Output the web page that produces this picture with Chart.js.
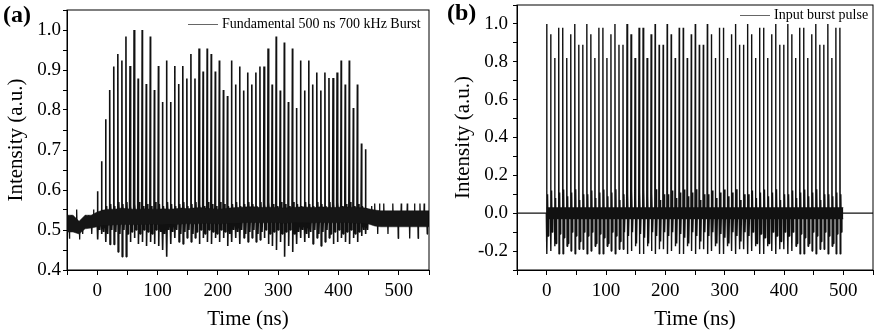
<!DOCTYPE html>
<html>
<head>
<meta charset="utf-8">
<script src="https://cdn.jsdelivr.net/npm/chart.js@4.4.0/dist/chart.umd.min.js"></script>
<style>
  body { margin: 0; background: #fff; }
  #wrap { position: relative; width: 875px; height: 335px; font-family: "Liberation Serif", serif; }
  canvas { position: absolute; top: 0; }
  .panel { position: absolute; font-weight: bold; font-size: 24px; line-height: 24px; }
  .legend { position: absolute; font-size: 14px; line-height: 16px; white-space: nowrap; }
  .legend span.line { display: inline-block; width: 30px; height: 0; border-top: 1.5px solid #666; vertical-align: middle; margin-right: 4px; }
</style>
</head>
<body>
<div id="wrap">
  <canvas id="chartA" width="440" height="335" style="left:0"></canvas>
  <canvas id="chartB" width="435" height="335" style="left:440px"></canvas>
  <div class="panel" style="left:3px;top:2px">(a)</div>
  <div class="panel" style="left:447px;top:0px">(b)</div>
  <div class="legend" style="left:188px;top:16px"><span class="line"></span>Fundamental 500 ns 700 kHz Burst</div>
  <div class="legend" style="left:740px;top:7px"><span class="line"></span>Input burst pulse</div>
</div>
<script>
// ---- panel (a): fundamental burst ----
const pulseStartA = 0.6;
const pulseStepA = 6.73;
const baseA = 0.53;
const basePreA = 0.515;

const peaksA = [0.597, 0.672, 0.777, 0.850, 0.909, 0.940, 0.924, 0.984, 0.910, 1.000,
  0.879, 1.000, 0.865, 0.984, 0.850, 0.910, 0.820, 0.924, 0.820, 0.910,
  0.865, 0.910, 0.879, 0.940, 0.879, 0.954, 0.896, 0.954, 0.940, 0.896,
  0.924, 0.850, 0.835, 0.924, 0.864, 0.909, 0.849, 0.894, 0.864, 0.894,
  0.909, 0.909, 0.954, 0.864, 0.984, 0.849, 0.969, 0.820, 0.954, 0.805,
  0.924, 0.849, 0.924, 0.864, 0.894, 0.849, 0.894, 0.880, 0.880, 0.894,
  0.924, 0.864, 0.924, 0.805, 0.864, 0.716, 0.702];

const dipsA = [0.476, 0.49, 0.47, 0.464, 0.464, 0.445, 0.433, 0.433, 0.47, 0.48,
  0.465, 0.47, 0.46, 0.47, 0.465, 0.46, 0.45, 0.433, 0.465, 0.48,
  0.47, 0.465, 0.48, 0.47, 0.48, 0.465, 0.48, 0.47, 0.465, 0.48,
  0.47, 0.48, 0.46, 0.47, 0.48, 0.465, 0.48, 0.47, 0.48, 0.47,
  0.475, 0.48, 0.465, 0.46, 0.45, 0.47, 0.433, 0.46, 0.445, 0.465,
  0.48, 0.47, 0.48, 0.465, 0.48, 0.46, 0.47, 0.48, 0.465, 0.47,
  0.48, 0.47, 0.465, 0.48, 0.47, 0.485, 0.49];

const ringA = [0.54, 0.55, 0.56, 0.565, 0.56, 0.57, 0.565, 0.57, 0.56, 0.565,
  0.57, 0.56, 0.565, 0.56, 0.57, 0.565, 0.56, 0.57, 0.565, 0.56,
  0.565, 0.57, 0.56, 0.565, 0.57, 0.565, 0.56, 0.57, 0.565, 0.56,
  0.57, 0.565, 0.56, 0.565, 0.57, 0.56, 0.565, 0.57, 0.565, 0.56,
  0.57, 0.565, 0.57, 0.565, 0.56, 0.57, 0.565, 0.56, 0.57, 0.565,
  0.56, 0.57, 0.565, 0.56, 0.57, 0.565, 0.56, 0.57, 0.565, 0.57,
  0.56, 0.565, 0.57, 0.56, 0.565, 0.56, 0.555];

// small downward spikes between pulses
const midDipA = [0.50, 0.495, 0.49, 0.50, 0.495, 0.49, 0.50, 0.49, 0.495, 0.50,
  0.49, 0.50, 0.495, 0.49, 0.50, 0.495, 0.49, 0.50, 0.495, 0.50,
  0.49, 0.495, 0.50, 0.49, 0.495, 0.50, 0.49, 0.50, 0.495, 0.49,
  0.50, 0.495, 0.49, 0.50, 0.495, 0.50, 0.49, 0.495, 0.50, 0.49,
  0.495, 0.50, 0.49, 0.495, 0.50, 0.49, 0.495, 0.50, 0.49, 0.495,
  0.50, 0.49, 0.495, 0.50, 0.49, 0.495, 0.50, 0.49, 0.495, 0.50,
  0.49, 0.495, 0.50, 0.49, 0.495, 0.50, 0.50];

// noise band envelope, every 10 ns
const bandTimesA = [-50, -40, -30, -20, -10, 0, 10, 20, 30, 40, 50, 60, 70, 80, 90, 100,
  110, 120, 130, 140, 150, 160, 170, 180, 190, 200, 210, 220, 230, 240, 250,
  260, 270, 280, 290, 300, 310, 320, 330, 340, 350, 360, 370, 380, 390, 400,
  410, 420, 430, 440, 450, 460, 470, 480, 490, 500, 510, 520, 530, 540, 550];
const bandHiA = [0.537, 0.537, 0.522, 0.537, 0.537, 0.545, 0.55, 0.552, 0.552, 0.555, 0.553, 0.552, 0.552, 0.553, 0.552, 0.552,
  0.553, 0.552, 0.553, 0.555, 0.553, 0.555, 0.556, 0.555, 0.553, 0.552, 0.553, 0.555, 0.556, 0.557, 0.558,
  0.558, 0.556, 0.557, 0.557, 0.556, 0.555, 0.556, 0.557, 0.558, 0.557, 0.556, 0.558, 0.557, 0.556, 0.557,
  0.558, 0.557, 0.556, 0.556, 0.553, 0.55, 0.548, 0.548, 0.548, 0.548, 0.548, 0.548, 0.548, 0.548, 0.548];
const bandLoA = [0.495, 0.495, 0.49, 0.503, 0.505, 0.508, 0.512, 0.512, 0.513, 0.514, 0.514, 0.513, 0.514, 0.514, 0.515, 0.514,
  0.514, 0.515, 0.514, 0.515, 0.516, 0.515, 0.516, 0.517, 0.516, 0.515, 0.516, 0.517, 0.517, 0.518, 0.519,
  0.519, 0.518, 0.518, 0.519, 0.518, 0.517, 0.518, 0.519, 0.519, 0.518, 0.518, 0.519, 0.518, 0.518, 0.518,
  0.519, 0.518, 0.517, 0.517, 0.515, 0.51, 0.508, 0.508, 0.508, 0.508, 0.508, 0.508, 0.508, 0.508, 0.508];

// spikes outside the burst
const noiseTimesA = [-49, -46, -43, -40, -34, -29, -24, -19, -14, -9, -6,
  455, 460, 465, 468, 475, 482, 490, 499, 504, 514, 518, 526, 532, 535, 542, 547];
const noiseValsA = [0.537, 0.478, 0.537, 0.497, 0.551, 0.476, 0.49, 0.537, 0.537, 0.49, 0.551,
  0.56, 0.566, 0.49, 0.566, 0.566, 0.49, 0.566, 0.479, 0.566, 0.566, 0.479, 0.566, 0.479, 0.566, 0.566, 0.49];

// ---- panel (b): input burst ----
const pulseStartB = 0;
const pulseStepB = 6.77;

const peaksB = [
  1.00, 0.945, 0.82, 0.98, 0.98, 0.82, 0.945, 1.00, 0.89, 0.89,
  1.00, 0.945, 0.82, 0.98, 0.98, 0.82, 0.945, 1.00, 0.89, 0.89,
  1.00, 0.945, 0.82, 0.98, 0.98, 0.82, 0.945, 1.00, 0.89, 0.89,
  1.00, 0.945, 0.82, 0.98, 0.98, 0.82, 0.945, 1.00, 0.89, 0.89,
  1.00, 0.945, 0.82, 0.98, 0.98, 0.82, 0.945, 1.00, 0.89, 0.89,
  1.00, 0.945, 0.82, 0.98, 0.98, 0.82, 0.945, 1.00, 0.89, 0.89,
  1.00, 0.945, 0.82, 0.98, 0.98, 0.82, 0.945, 1.00, 0.89, 0.89,
  1.00, 0.82, 0.98, 0.98];
const dipsB = [
  -0.215, -0.20, -0.175, -0.215, -0.215, -0.175, -0.20, -0.215, -0.19, -0.19,
  -0.215, -0.20, -0.175, -0.215, -0.215, -0.175, -0.20, -0.215, -0.19, -0.19,
  -0.215, -0.20, -0.175, -0.215, -0.215, -0.175, -0.20, -0.215, -0.19, -0.19,
  -0.215, -0.20, -0.175, -0.215, -0.215, -0.175, -0.20, -0.215, -0.19, -0.19,
  -0.215, -0.20, -0.175, -0.215, -0.215, -0.175, -0.20, -0.215, -0.19, -0.19,
  -0.215, -0.20, -0.175, -0.215, -0.215, -0.175, -0.20, -0.215, -0.19, -0.19,
  -0.215, -0.20, -0.175, -0.215, -0.215, -0.175, -0.20, -0.215, -0.19, -0.19,
  -0.215, -0.175, -0.215, -0.215];
const ringUpB = [
  0.10, 0.12, 0.08, 0.11, 0.125, 0.09, 0.11, 0.127, 0.07, 0.10,
  0.10, 0.12, 0.08, 0.11, 0.125, 0.09, 0.11, 0.127, 0.07, 0.10,
  0.10, 0.12, 0.08, 0.11, 0.125, 0.09, 0.11, 0.127, 0.07, 0.10,
  0.10, 0.12, 0.08, 0.11, 0.125, 0.09, 0.11, 0.127, 0.07, 0.10,
  0.10, 0.12, 0.08, 0.11, 0.125, 0.09, 0.11, 0.127, 0.07, 0.10,
  0.10, 0.12, 0.08, 0.11, 0.125, 0.09, 0.11, 0.127, 0.07, 0.10,
  0.10, 0.12, 0.08, 0.11, 0.125, 0.09, 0.11, 0.127, 0.07, 0.10,
  0.10, 0.09, 0.11, 0.10];
const ringDnB = [
  -0.12, -0.10, -0.16, -0.11, -0.13, -0.16, -0.10, -0.12, -0.15, -0.10,
  -0.12, -0.10, -0.16, -0.11, -0.13, -0.16, -0.10, -0.12, -0.15, -0.10,
  -0.12, -0.10, -0.16, -0.11, -0.13, -0.16, -0.10, -0.12, -0.15, -0.10,
  -0.12, -0.10, -0.16, -0.11, -0.13, -0.16, -0.10, -0.12, -0.15, -0.10,
  -0.12, -0.10, -0.16, -0.11, -0.13, -0.16, -0.10, -0.12, -0.15, -0.10,
  -0.12, -0.10, -0.16, -0.11, -0.13, -0.16, -0.10, -0.12, -0.15, -0.10,
  -0.12, -0.10, -0.16, -0.11, -0.13, -0.16, -0.10, -0.12, -0.15, -0.10,
  -0.12, -0.16, -0.11, -0.10];

const bandTimesB = [0, 500];
const bandHiB = [0.03, 0.03];
const bandLoB = [-0.03, -0.03];
const zeroTimesB = [-50, 550];
const zeroValsB = [0, 0];

Chart.defaults.font.family = '"Liberation Serif", "Times New Roman", serif';
Chart.defaults.color = '#000';

const framePlugin = {
  id: 'frame',
  afterDraw(chart) {
    const a = chart.chartArea;
    const ctx = chart.ctx;
    ctx.save();
    ctx.strokeStyle = '#000';
    ctx.lineWidth = 1;
    ctx.strokeRect(a.left, a.top, a.right - a.left, a.bottom - a.top);
    ctx.restore();
  }
};

function zip(xs, ys) {
  return xs.map((x, i) => ({ x: x, y: ys[i] }));
}

function traceA() {
  const pts = [];
  peaksA.forEach((p, k) => {
    const t = pulseStartA + k * pulseStepA;
    pts.push({ x: t - 0.8, y: baseA }, { x: t, y: p }, { x: t + 0.5, y: dipsA[k] },
      { x: t + 1.5, y: ringA[k] }, { x: t + 2.6, y: baseA },
      { x: t + 3.4, y: midDipA[k] }, { x: t + 4.2, y: baseA });
  });
  return pts;
}

function noiseA() {
  const pts = [];
  noiseTimesA.forEach((t, i) => {
    const b = t < 0 ? basePreA : baseA;
    if (i > 0 && noiseTimesA[i - 1] < 0 && t > 0) pts.push({ x: 0, y: null });
    pts.push({ x: t - 0.6, y: b }, { x: t, y: noiseValsA[i] }, { x: t + 0.6, y: b });
  });
  return pts;
}

function traceB() {
  const pts = [];
  peaksB.forEach((p, k) => {
    const t = pulseStartB + k * pulseStepB;
    pts.push({ x: t - 0.6, y: 0 }, { x: t, y: p }, { x: t + 0.5, y: dipsB[k] },
      { x: t + 1.5, y: ringUpB[k] }, { x: t + 2.5, y: ringDnB[k] }, { x: t + 3.4, y: 0 });
  });
  return pts;
}

function lineSet(data, width) {
  return {
    data: data, borderColor: '#111', borderWidth: width, pointRadius: 0,
    tension: 0, fill: false, borderJoinStyle: 'bevel', spanGaps: false
  };
}

function makeScales(o) {
  return {
    x: {
      type: 'linear', min: -50, max: 550,
      afterFit: (s) => { s.height = 65; s.paddingLeft = 0; s.paddingRight = 0; },
      ticks: {
        stepSize: 50, autoSkip: false, maxRotation: 0, padding: 5,
        font: { size: 19 }, color: '#000',
        callback: (v) => (v % 100 === 0 ? String(v) : '')
      },
      grid: { drawOnChartArea: false, drawTicks: true, tickLength: 5, color: '#000' },
      border: { display: true, color: '#000', width: 1 },
      title: { display: true, text: 'Time (ns)', font: { size: 21 }, color: '#000', padding: { top: 0, bottom: 3 } }
    },
    y: {
      min: o.ymin, max: o.ymax,
      afterFit: (s) => { s.width = o.yWidth; s.paddingTop = 0; s.paddingBottom = 0; },
      ticks: {
        stepSize: o.ystep, autoSkip: false, padding: o.ypad,
        font: { size: 19 }, color: '#000',
        callback: (v) => {
          const n = Math.round(v / o.ystep);
          if (n % o.labelEvery !== 0) return '';
          const r = Math.round(v * 10) / 10;
          return (r === 0 ? 0 : r).toFixed(1);
        }
      },
      grid: { drawOnChartArea: false, drawTicks: true, tickLength: 4, color: '#000' },
      border: { display: true, color: '#000', width: 1 },
      title: { display: true, text: 'Intensity (a.u.)', font: { size: 21 }, color: '#000', padding: { top: o.titlePad, bottom: 0 } }
    }
  };
}

new Chart(document.getElementById('chartA'), {
  type: 'line',
  data: {
    datasets: [
      Object.assign(lineSet(zip(bandTimesA, bandHiA), 0.5), { fill: '+1', backgroundColor: '#161616' }),
      lineSet(zip(bandTimesA, bandLoA), 0.5),
      lineSet(traceA(), 1.6),
      lineSet(noiseA(), 1.3)
    ]
  },
  options: {
    responsive: false, animation: false, devicePixelRatio: 1,
    layout: { padding: { top: 10, right: 11, left: 0, bottom: 0 } },
    plugins: { legend: { display: false }, tooltip: { enabled: false } },
    scales: makeScales({ ymin: 0.4, ymax: 1.05, ystep: 0.05, labelEvery: 2, yWidth: 67, ypad: 2, titlePad: 4 })
  },
  plugins: [framePlugin]
});

new Chart(document.getElementById('chartB'), {
  type: 'line',
  data: {
    datasets: [
      Object.assign(lineSet(zip(bandTimesB, bandHiB), 0.5), { fill: '+1', backgroundColor: '#111' }),
      lineSet(zip(bandTimesB, bandLoB), 0.5),
      lineSet(zip(zeroTimesB, zeroValsB), 1.2),
      lineSet(traceB(), 1.4)
    ]
  },
  options: {
    responsive: false, animation: false, devicePixelRatio: 1,
    layout: { padding: { top: 5, right: 2, left: 0, bottom: 0 } },
    plugins: { legend: { display: false }, tooltip: { enabled: false } },
    scales: makeScales({ ymin: -0.3, ymax: 1.1, ystep: 0.1, labelEvery: 2, yWidth: 77, ypad: 5, titlePad: 11 })
  },
  plugins: [framePlugin]
});
</script>
</body>
</html>
